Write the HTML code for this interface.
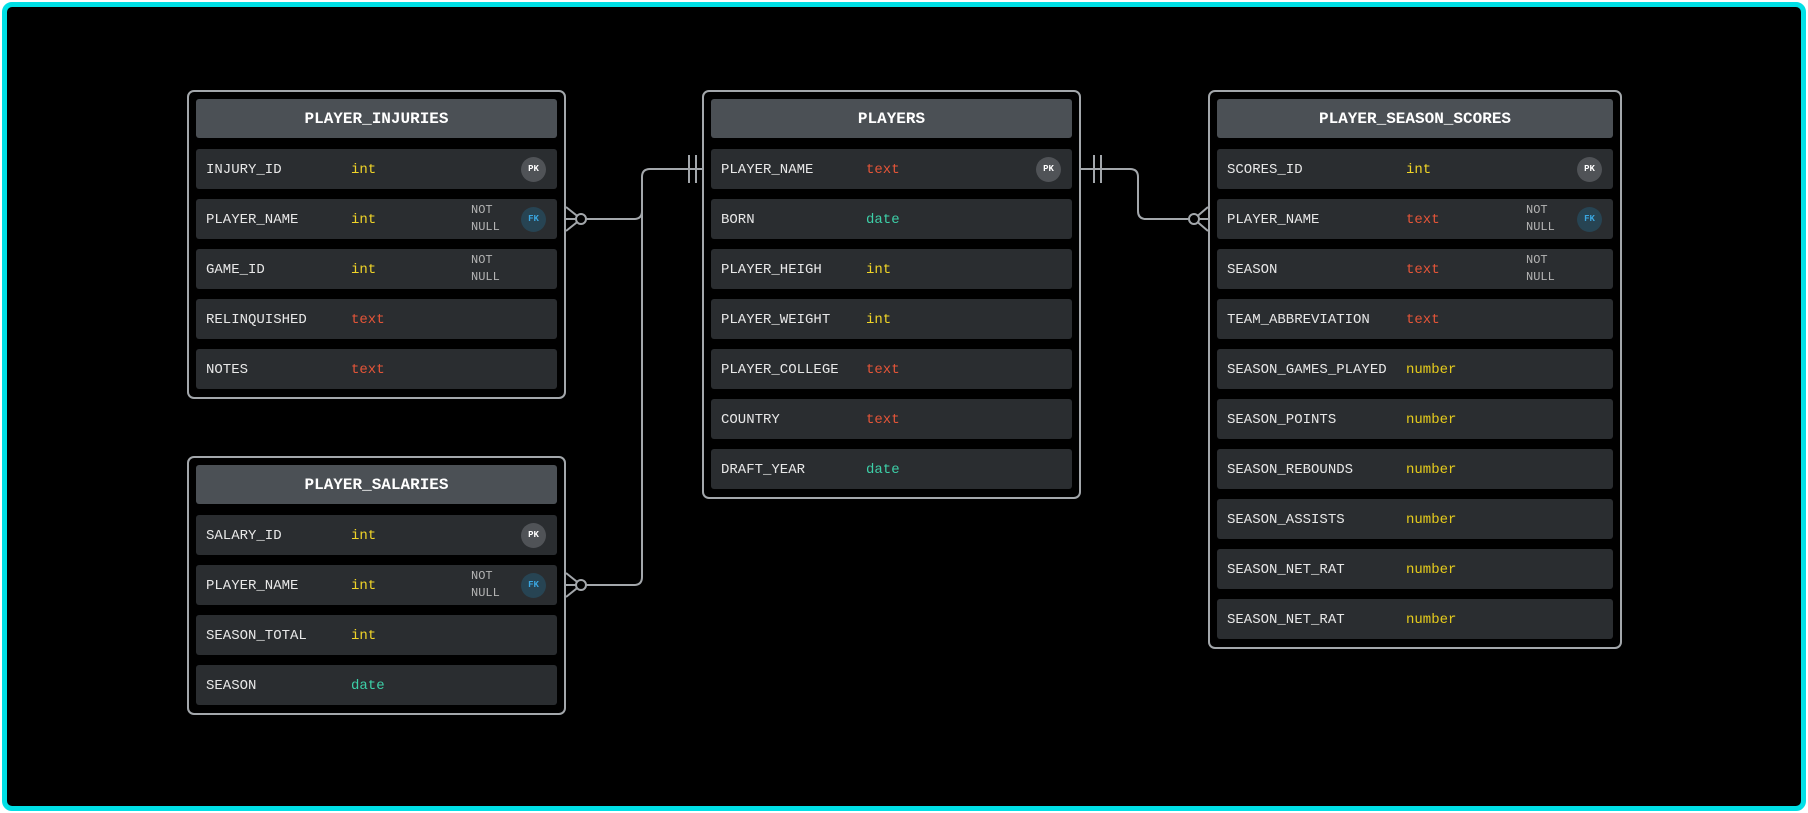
<!DOCTYPE html>
<html><head><meta charset="utf-8"><style>
*{margin:0;padding:0;box-sizing:border-box}
body{width:1808px;height:813px;background:#fff;position:relative;overflow:hidden;font-family:"Liberation Mono",monospace}
#frame{position:absolute;left:2px;top:2px;width:1804px;height:809px;border:5px solid #00e0e6;border-radius:10px;background:#000}
.box{position:absolute;border:2px solid #a3a7ab;border-radius:7px}
.hd{position:absolute;left:7px;right:7px;top:7px;height:39px;background:#4b5055;border-radius:3px;color:#fff;font-weight:bold;font-size:16px;text-align:center;line-height:41px}
.row{position:absolute;left:7px;right:7px;height:40px;background:#2a2d30;border-radius:3px;font-size:14px;line-height:42px;color:#e8e8e8}
.row span{position:absolute;top:0}
.n{left:10px}
.int{color:#f0d428}.text{color:#e55538}.date{color:#3dd0a8}.num{color:#e6cc1c}
.nn{position:absolute;font-size:12px;line-height:17px;color:#b5b5b5;top:3px}
.pk,.fk{position:absolute;right:11px;top:8px;width:25px;height:25px;border-radius:50%;font-size:9px;font-weight:bold;text-align:center;line-height:25px}
.pk{background:#505357;color:#fff}.fk{background:#274453;color:#3aa6e0}
</style></head><body>
<div id="frame"></div>

<div class="box" style="left:187px;top:90px;width:379px;height:309px">
<div class="hd">PLAYER_INJURIES</div>
<div class="row" style="top:57px"><span class="n">INJURY_ID</span><span class="int" style="left:155px">int</span><div class="pk">PK</div></div>
<div class="row" style="top:107px"><span class="n">PLAYER_NAME</span><span class="int" style="left:155px">int</span><div class="nn" style="left:275px">NOT<br>NULL</div><div class="fk">FK</div></div>
<div class="row" style="top:157px"><span class="n">GAME_ID</span><span class="int" style="left:155px">int</span><div class="nn" style="left:275px">NOT<br>NULL</div></div>
<div class="row" style="top:207px"><span class="n">RELINQUISHED</span><span class="text" style="left:155px">text</span></div>
<div class="row" style="top:257px"><span class="n">NOTES</span><span class="text" style="left:155px">text</span></div>
</div>

<div class="box" style="left:187px;top:456px;width:379px;height:259px">
<div class="hd">PLAYER_SALARIES</div>
<div class="row" style="top:57px"><span class="n">SALARY_ID</span><span class="int" style="left:155px">int</span><div class="pk">PK</div></div>
<div class="row" style="top:107px"><span class="n">PLAYER_NAME</span><span class="int" style="left:155px">int</span><div class="nn" style="left:275px">NOT<br>NULL</div><div class="fk">FK</div></div>
<div class="row" style="top:157px"><span class="n">SEASON_TOTAL</span><span class="int" style="left:155px">int</span></div>
<div class="row" style="top:207px"><span class="n">SEASON</span><span class="date" style="left:155px">date</span></div>
</div>

<div class="box" style="left:702px;top:90px;width:379px;height:409px">
<div class="hd">PLAYERS</div>
<div class="row" style="top:57px"><span class="n">PLAYER_NAME</span><span class="text" style="left:155px">text</span><div class="pk">PK</div></div>
<div class="row" style="top:107px"><span class="n">BORN</span><span class="date" style="left:155px">date</span></div>
<div class="row" style="top:157px"><span class="n">PLAYER_HEIGH</span><span class="int" style="left:155px">int</span></div>
<div class="row" style="top:207px"><span class="n">PLAYER_WEIGHT</span><span class="int" style="left:155px">int</span></div>
<div class="row" style="top:257px"><span class="n">PLAYER_COLLEGE</span><span class="text" style="left:155px">text</span></div>
<div class="row" style="top:307px"><span class="n">COUNTRY</span><span class="text" style="left:155px">text</span></div>
<div class="row" style="top:357px"><span class="n">DRAFT_YEAR</span><span class="date" style="left:155px">date</span></div>
</div>

<div class="box" style="left:1208px;top:90px;width:414px;height:559px">
<div class="hd">PLAYER_SEASON_SCORES</div>
<div class="row" style="top:57px"><span class="n">SCORES_ID</span><span class="int" style="left:189px">int</span><div class="pk">PK</div></div>
<div class="row" style="top:107px"><span class="n">PLAYER_NAME</span><span class="text" style="left:189px">text</span><div class="nn" style="left:309px">NOT<br>NULL</div><div class="fk">FK</div></div>
<div class="row" style="top:157px"><span class="n">SEASON</span><span class="text" style="left:189px">text</span><div class="nn" style="left:309px">NOT<br>NULL</div></div>
<div class="row" style="top:207px"><span class="n">TEAM_ABBREVIATION</span><span class="text" style="left:189px">text</span></div>
<div class="row" style="top:257px"><span class="n">SEASON_GAMES_PLAYED</span><span class="num" style="left:189px">number</span></div>
<div class="row" style="top:307px"><span class="n">SEASON_POINTS</span><span class="num" style="left:189px">number</span></div>
<div class="row" style="top:357px"><span class="n">SEASON_REBOUNDS</span><span class="num" style="left:189px">number</span></div>
<div class="row" style="top:407px"><span class="n">SEASON_ASSISTS</span><span class="num" style="left:189px">number</span></div>
<div class="row" style="top:457px"><span class="n">SEASON_NET_RAT</span><span class="num" style="left:189px">number</span></div>
<div class="row" style="top:507px"><span class="n">SEASON_NET_RAT</span><span class="num" style="left:189px">number</span></div>
</div>

<svg style="position:absolute;left:0;top:0" width="1808" height="813" fill="none" stroke="#a3a7ab" stroke-width="2">
<path d="M566 219 H634 Q642 219 642 211 V177 Q642 169 650 169 H702"/>
<path d="M566 585 H634 Q642 585 642 577 V177"/>
<path d="M689 155 V183 M696 155 V183"/>
<path d="M566 207 L581 219 L566 231"/>
<circle cx="581" cy="219" r="5" fill="#000"/>
<path d="M566 573 L581 585 L566 597"/>
<circle cx="581" cy="585" r="5" fill="#000"/>
<path d="M1081 169 H1130 Q1138 169 1138 177 V211 Q1138 219 1146 219 H1208"/>
<path d="M1094 155 V183 M1101 155 V183"/>
<path d="M1208 207 L1194 219 L1208 231"/>
<circle cx="1194" cy="219" r="5" fill="#000"/>
</svg>
</body></html>
